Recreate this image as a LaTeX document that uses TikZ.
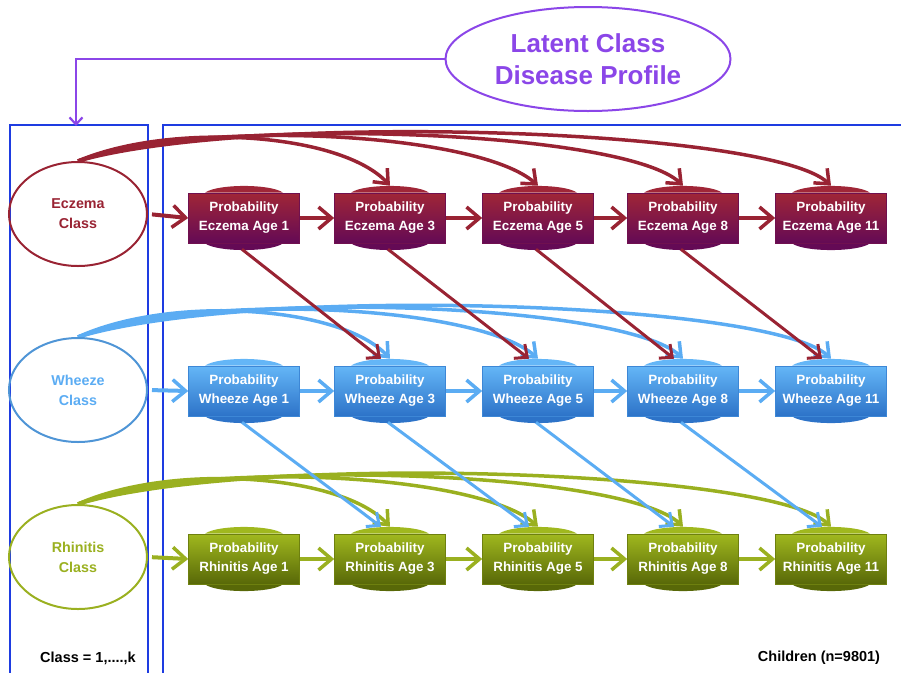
\documentclass[tikz,border=0pt]{standalone}
\usepackage{fontspec}
\setmainfont{Liberation Sans}
\usetikzlibrary{shapes.geometric,arrows.meta,backgrounds}
\definecolor{frameblue}{RGB}{30,60,225}
\definecolor{purp}{RGB}{139,70,232}
\definecolor{ecol}{RGB}{153,35,51}
\definecolor{wcol}{RGB}{91,172,243}
\definecolor{rcol}{RGB}{154,176,32}
\definecolor{etop}{RGB}{160,38,55}
\definecolor{ebot}{RGB}{100,10,85}
\definecolor{wtop}{RGB}{100,182,247}
\definecolor{wbot}{RGB}{45,115,200}
\definecolor{rtop}{RGB}{160,184,30}
\definecolor{rbot}{RGB}{88,104,8}
\definecolor{wline}{RGB}{79,149,214}
\begin{document}
\begin{tikzpicture}[x=1pt,y=-1pt,
  frame/.style={draw=frameblue,line width=2pt},
  cls/.style={ellipse,line width=2pt,minimum width=138pt,minimum height=104pt,inner sep=0pt,align=center,
    font=\bfseries\fontsize{14.3}{20}\selectfont},
  pbox/.style={rectangle,minimum width=111pt,minimum height=50pt,inner sep=0pt,align=center,text=white,
    font=\bfseries\fontsize{13.4}{19}\selectfont},
  ebox/.style={pbox,top color=etop,bottom color=ebot,draw=ebot!80!etop,line width=0.6pt},
  wbox/.style={pbox,top color=wtop,bottom color=wbot,draw=wbot!70!wtop,line width=0.6pt},
  rbox/.style={pbox,top color=rtop,bottom color=rbot,draw=rbot!70!rtop,line width=0.6pt},
  harrow/.style={line width=4pt,-{Straight Barb[length=13pt,width=22pt,line width=3.5pt]}},
  carrow/.style={line width=3.5pt,-{Straight Barb[length=12pt,width=20pt,line width=3.5pt]}},
  darrow/.style={line width=3pt,-{Straight Barb[length=10pt,width=18pt,line width=3pt]}},
  plabel/.style={font=\bfseries\fontsize{14.5}{17}\selectfont,text=black}
]
\useasboundingbox (0,0) rectangle (901,672);
\clip (0,0) rectangle (901,672);

% latent class
\node[ellipse,draw=purp,line width=2pt,minimum width=285pt,minimum height=104pt,inner sep=0pt,
  text=purp,align=center,font=\bfseries\fontsize{26}{32}\selectfont] (lat) at (588,59)
  {Latent Class\\Disease Profile};
\coordinate (ctop) at (76,126);

% class ellipses
\node[cls,draw=ecol,text=ecol] (ce) at (78,214) {Eczema\\Class};
\node[cls,draw=wline,text=wcol] (cw) at (78,390) {Wheeze\\Class};
\node[cls,draw=rcol,text=rcol] (cr) at (78,557) {Rhinitis\\Class};

% probability boxes
\foreach \k/\x/\a in {1/244/1,2/390/3,3/538/5,4/683/8,5/831/11}{
  \node[ebox] (e\k) at (\x,218) {Probability\\Eczema Age \a};
  \node[wbox] (w\k) at (\x,391) {Probability\\Wheeze Age \a};
  \node[rbox] (r\k) at (\x,559) {Probability\\Rhinitis Age \a};
}

\node[plabel] (cl) at (88,658) {Class = 1,....,k};
\node[plabel] (ch) at (819,658) {Children (n=9801)};

\begin{scope}[on background layer]
  % frames
  \draw[frame] (10,690) -- (10,125) -- (148,125) -- (148,690);
  \draw[frame] (163,690) -- (163,125) -- (920,125);
  % latent connector
  \draw[purp,line width=2.5pt,-{Straight Barb[length=7pt,width=13pt,line width=2.2pt]}] (lat.west) -| (ctop);
  % bumps
  \foreach \rw/\tc/\bc in {e/etop/ebot,w/wtop/wbot,r/rtop/rbot}{
    \foreach \k in {1,...,5}{
      \fill[\tc] ([xshift=-39pt]\rw\k.north) .. controls +(12pt,9pt) and +(-12pt,9pt) .. ([xshift=39pt]\rw\k.north) -- cycle;
      \fill[\bc] ([xshift=-39pt]\rw\k.south) .. controls +(12pt,-9pt) and +(-12pt,-9pt) .. ([xshift=39pt]\rw\k.south) -- cycle;
    }
  }
  % rows of connectors
  \foreach \rw/\dy/\lc in {e/0/ecol,w/173/wcol,r/341/rcol}{
    \begin{scope}[yshift=-\dy pt]
      \draw[carrow,\lc] (c\rw.north) .. controls (250,112) and (770,128) .. ([yshift=7pt]\rw5.north);
      \draw[carrow,\lc] (c\rw.north) .. controls (220,115) and (625,130) .. ([yshift=7pt]\rw4.north);
      \draw[carrow,\lc] (c\rw.north) .. controls (200,118) and (478,132) .. ([yshift=7pt]\rw3.north);
      \draw[carrow,\lc] (c\rw.north) .. controls (170,122) and (340,132) .. ([yshift=7pt]\rw2.north);
    \end{scope}
    \draw[harrow,\lc,shorten <=4pt] (c\rw.east) -- (\rw1.west);
    \foreach \i/\j in {1/2,2/3,3/4,4/5}{
      \draw[harrow,\lc] (\rw\i.east) -- (\rw\j.west);
    }
  }
  \foreach \i/\j in {1/2,2/3,3/4,4/5}{
    \draw[darrow,ecol] ([xshift=-2pt,yshift=-6pt]e\i.south) -- ([xshift=-9pt,yshift=7pt]w\j.north);
    \draw[darrow,wcol] ([xshift=-2pt,yshift=-6pt]w\i.south) -- ([xshift=-9pt,yshift=7pt]r\j.north);
  }
\end{scope}
\end{tikzpicture}
\end{document}
